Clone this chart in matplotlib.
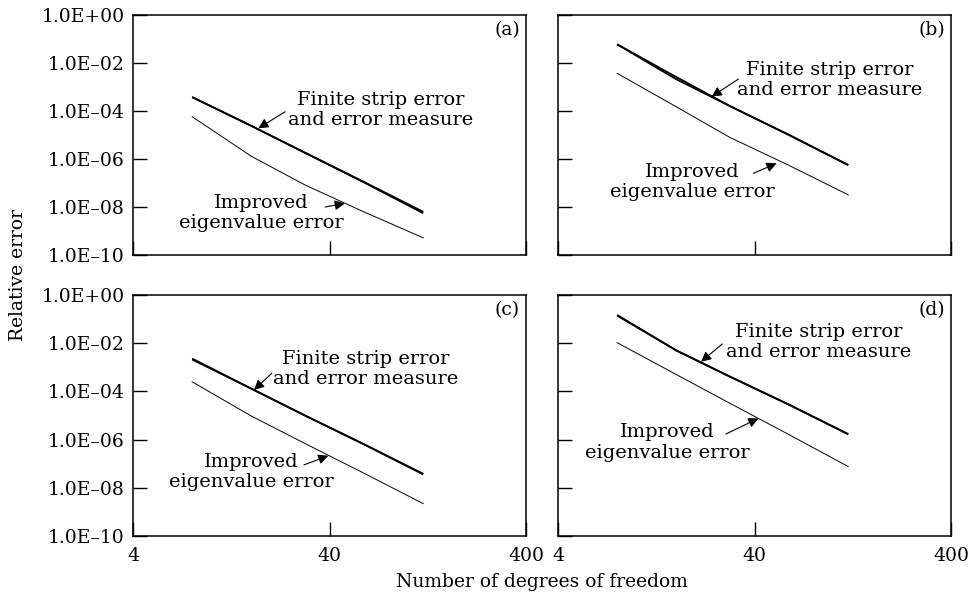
import matplotlib
matplotlib.use("Agg")
import matplotlib.pyplot as plt
import numpy as np

plt.rcParams["font.family"] = ["DejaVu Serif"]

# =========================
# Data
# =========================
dof = [8, 16, 30, 60, 120]

fs_a = [3.8e-4, 2.4e-5, 1.85e-6, 1.1e-7, 6.3e-9]
em_a = [3.8e-4, 2.4e-5, 1.8e-6, 1.05e-7, 5.5e-9]
ie_a = [5.8e-5, 1.3e-6, 8.3e-8, 6.2e-9, 5.2e-10]

fs_b = [6.0e-2, 2.1e-3, 1.6e-4, 1.0e-5, 5.6e-7]
em_b = [6.0e-2, 2.6e-3, 1.6e-4, 1.0e-5, 5.6e-7]
ie_b = [3.7e-3, 1.5e-4, 7.9e-6, 5.4e-7, 3.2e-8]

fs_c = [2.1e-3, 1.3e-4, 1.0e-5, 6.4e-7, 3.8e-8]
em_c = [2.3e-3, 1.3e-4, 1.0e-5, 6.3e-7, 3.6e-8]
ie_c = [2.5e-4, 9.5e-6, 6.9e-7, 4.0e-8, 2.2e-9]

fs_d = [0.148, 5.0e-3, 4.1e-4, 2.8e-5, 1.7e-6]
em_d = [0.140, 5.0e-3, 4.1e-4, 2.8e-5, 1.65e-6]
ie_d = [1.05e-2, 5.0e-4, 3.2e-5, 1.6e-6, 7.6e-8]

panel_names = ["(a)", "(b)", "(c)", "(d)"]

x_ticks = [4, 40, 400]
x_ticklabels = ["4", "40", "400"]
y_ticks = [1e0, 1e-2, 1e-4, 1e-6, 1e-8, 1e-10]
y_ticklabels = ["1.0E+00", "1.0E\u201302", "1.0E\u201304",
                "1.0E\u201306", "1.0E\u201308", "1.0E\u201310"]

fs_text = "Finite strip error\nand error measure"
ie_text = "Improved\neigenvalue error"

# =========================
# Layout (axes fractions for labels / arrows)
# =========================
W, H = 971, 597
rects = [
    (133, 15, 393, 240),
    (558, 15, 393, 240),
    (133, 295, 393, 241),
    (558, 295, 393, 241),
]

# text centre, arrow tail, arrow head (axes fraction)
fs_ann = [
    ((0.631, 0.604), (0.387, 0.597), (0.319, 0.528)),
    ((0.692, 0.729), (0.459, 0.733), (0.391, 0.660)),
    ((0.593, 0.693), (0.353, 0.675), (0.308, 0.606)),
    ((0.663, 0.806), (0.418, 0.797), (0.364, 0.723)),
]
ie_ann = [
    ((0.326, 0.175), (0.489, 0.200), (0.539, 0.215)),
    ((0.341, 0.304), (0.497, 0.340), (0.556, 0.382)),
    ((0.300, 0.266), (0.435, 0.295), (0.497, 0.333)),
    ((0.279, 0.388), (0.427, 0.423), (0.510, 0.488)),
]

series = [
    (fs_a, em_a, ie_a),
    (fs_b, em_b, ie_b),
    (fs_c, em_c, ie_c),
    (fs_d, em_d, ie_d),
]

fig = plt.figure(figsize=(W / 100, H / 100), dpi=100)

for i, (fs, em, ie) in enumerate(series):
    l, t, w, h = rects[i]
    ax = fig.add_axes([l / W, 1 - (t + h) / H, w / W, h / H])
    ax.set_xscale("log")
    ax.set_yscale("log")

    ax.plot(dof, fs, color="black", lw=1.3, solid_capstyle="butt")
    ax.plot(dof, em, color="black", lw=1.3, solid_capstyle="butt")
    ax.plot(dof, ie, color="black", lw=0.7)

    ax.set_xlim(4, 400)
    ax.set_ylim(1e-10, 1)
    ax.set_xticks(x_ticks)
    ax.set_yticks(y_ticks)
    ax.minorticks_off()
    ax.tick_params(direction="in", length=10, width=1, labelsize=13.5)
    ax.tick_params(axis="x", pad=8)
    ax.tick_params(axis="y", pad=6)

    if i >= 2:
        ax.set_xticklabels(x_ticklabels)
    else:
        ax.set_xticklabels([])
    if i % 2 == 0:
        ax.set_yticklabels(y_ticklabels)
    else:
        ax.set_yticklabels([])

    for sp in ax.spines.values():
        sp.set_linewidth(1.1)

    ax.text(0.985, 0.9375, panel_names[i], transform=ax.transAxes,
            ha="right", va="center", fontsize=13.5)

    for txt, (c, tail, head) in ((fs_text, fs_ann[i]), (ie_text, ie_ann[i])):
        ax.text(c[0], c[1], txt, transform=ax.transAxes, ha="center",
                va="center", fontsize=14, linespacing=1.15)
        ax.annotate("", xy=head, xycoords="axes fraction", xytext=tail,
                    textcoords="axes fraction",
                    arrowprops=dict(arrowstyle="-|>", color="black", lw=0.8,
                                    mutation_scale=15, shrinkA=0, shrinkB=0))

fig.text(542 / W, 1 - 582 / H, "Number of degrees of freedom",
         ha="center", va="center", fontsize=13.5)
fig.text(18 / W, 1 - 275 / H, "Relative error", rotation=90,
         ha="center", va="center", fontsize=13.5)

fig.savefig("out.png", dpi=100)
